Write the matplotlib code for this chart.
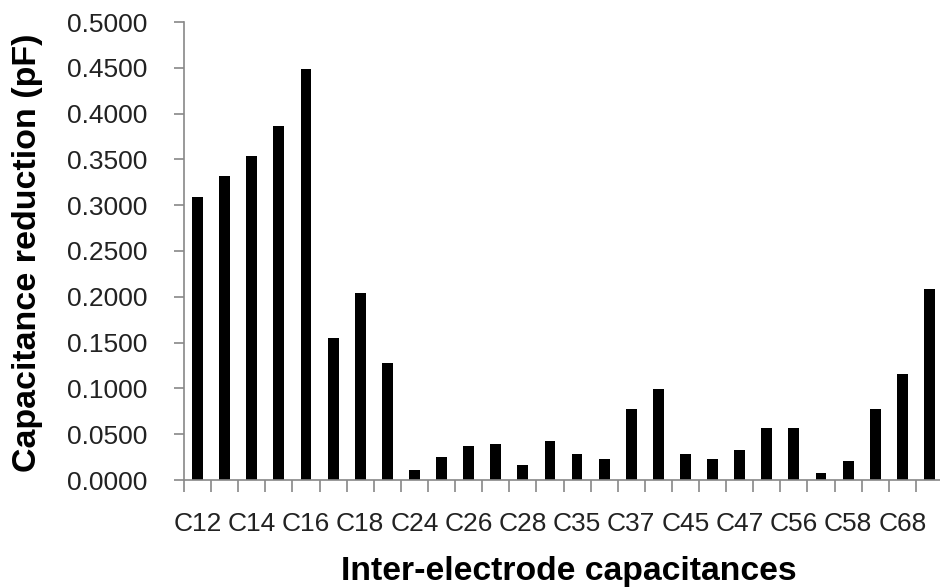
import matplotlib
matplotlib.use("Agg")
import matplotlib.pyplot as plt
import numpy as np

categories = ["C12", "C13", "C14", "C15", "C16", "C17", "C18",
              "C23", "C24", "C25", "C26", "C27", "C28",
              "C34", "C35", "C36", "C37", "C38",
              "C45", "C46", "C47", "C48",
              "C56", "C57", "C58",
              "C67", "C68",
              "C78"]
values = [0.3087, 0.3322, 0.3540, 0.3868, 0.4484, 0.1554, 0.2045,
          0.1274, 0.0109, 0.0255, 0.0371, 0.0395, 0.0162,
          0.0424, 0.0282, 0.0231, 0.0777, 0.0988,
          0.0282, 0.0231, 0.0325, 0.0566,
          0.0566, 0.0071, 0.0210,
          0.0777, 0.1155,
          0.2080]
y_ticks = [0.0, 0.05, 0.10, 0.15, 0.20, 0.25, 0.30, 0.35, 0.40, 0.45, 0.50]

plt.rcParams['font.family'] = ['Liberation Sans', 'DejaVu Sans']

fig = plt.figure(figsize=(9.4, 5.88), dpi=100)
ax = fig.add_axes([184/940, 108/588, (943-184)/940, 458/588])

x = np.arange(len(categories))
ax.bar(x, values, width=0.4, color='black')

ax.set_xlim(-0.5, len(categories) - 0.5)
ax.set_ylim(0, 0.5)

spine_col = '#888888'
for s in ['top', 'right']:
    ax.spines[s].set_visible(False)
for s in ['left', 'bottom']:
    ax.spines[s].set_color(spine_col)
    ax.spines[s].set_linewidth(1.2)

ax.set_yticks(y_ticks)
ax.set_yticklabels([f"{v:.4f}" for v in y_ticks])

# major ticks at category boundaries (no labels), minor ticks carry labels
ax.set_xticks(np.arange(len(categories) + 1) - 0.5)
ax.set_xticklabels([])
ax.set_xticks(x[::2], minor=True)
ax.set_xticklabels(categories[::2], minor=True)

ax.tick_params(axis='x', which='major', direction='out', length=8.6, width=1.2, color=spine_col)
ax.tick_params(axis='x', which='minor', length=0, pad=23, labelsize=19, labelcolor='#222222')
ax.tick_params(axis='y', direction='out', length=7, width=1.2, color=spine_col,
               labelsize=19, labelcolor='#222222', pad=19.5)

ax.set_xlabel("Inter-electrode capacitances", fontsize=24.3, fontweight='bold')
ax.set_ylabel("Capacitance reduction (pF)", fontsize=24.5, fontweight='bold')
ax.xaxis.set_label_coords(0.507, -0.166)
ax.yaxis.set_label_coords(-0.1858, 0.496)

fig.savefig("out.png", dpi=100)
